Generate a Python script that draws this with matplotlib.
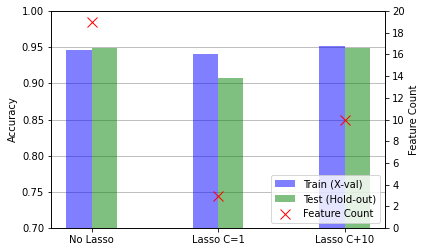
import matplotlib
matplotlib.use("Agg")
import matplotlib.pyplot as plt
import numpy as np

# Chart data
models = ['No Lasso', 'Lasso C=1', 'Lasso C+10']
train_acc = [0.946, 0.941, 0.952]
test_acc = [0.9495, 0.9075, 0.9495]
feature_count = [19, 3, 10]

x = np.arange(len(models))
width = 0.2

fig, ax = plt.subplots(figsize=(426 / 72, 252 / 72), dpi=72)
fig.subplots_adjust(left=0.12, right=0.904, bottom=0.095, top=0.956)

b1 = ax.bar(x - width / 2, train_acc, width, color='blue', alpha=0.5, label='Train (X-val)')
b2 = ax.bar(x + width / 2, test_acc, width, color='green', alpha=0.5, label='Test (Hold-out)')
ax.set_ylim(0.7, 1.0)
ax.set_ylabel('Accuracy')
ax.set_xticks(x)
ax.set_xticklabels(models)
ax.set_axisbelow(True)
ax.grid(axis='y', color='#b0b0b0')

ax2 = ax.twinx()
m, = ax2.plot(x, feature_count, 'x', color='red', markersize=10, label='Feature Count')
ax2.set_ylim(0, 20)
ax2.set_yticks(range(0, 21, 2))
ax2.set_ylabel('Feature Count')

ax2.legend([b1, b2, m], [b1.get_label(), b2.get_label(), m.get_label()], loc='lower right')

plt.savefig('out.png', dpi=72)
